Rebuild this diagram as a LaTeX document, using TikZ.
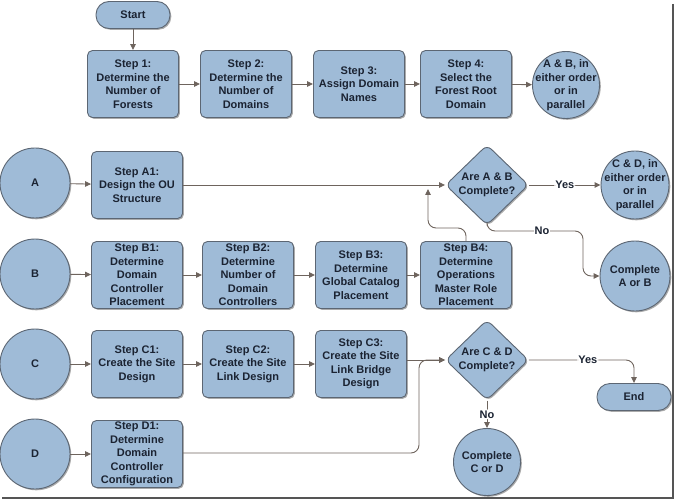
\documentclass[tikz,border=0pt]{standalone}
\usepackage{fontspec}
\setmainfont{Liberation Sans}
\usetikzlibrary{arrows.meta,shapes.geometric,shadows}
\definecolor{boxfill}{HTML}{9FBBD7}
\definecolor{boxedge}{HTML}{5C6673}
\definecolor{flowgray}{HTML}{6E645D}
\definecolor{inknavy}{HTML}{1B2332}
\definecolor{framegray}{HTML}{555555}

\begin{document}
\begin{tikzpicture}[
    x=1pt, y=-1pt,
    font=\fontsize{11}{13.5}\selectfont\bfseries,
    >={Triangle[length=6pt,width=5.5pt]},
    shade/.style={drop shadow={shadow xshift=1.3pt, shadow yshift=-1.3pt,
                  fill=black!60, opacity=0.55}},
    stepbox/.style={draw=boxedge, line width=0.9pt, fill=boxfill, text=inknavy,
                    rounded corners=5pt, minimum width=91pt, minimum height=67pt,
                    inner sep=1pt, align=center, shade},
    pill/.style={stepbox, rounded corners=13pt, minimum width=74pt,
                 minimum height=27pt},
    hub/.style={circle, draw=boxedge, line width=0.9pt, fill=boxfill,
                text=inknavy, inner sep=-12pt, minimum size=70pt,
                align=center, shade},
    check/.style={diamond, draw=boxedge, line width=0.9pt, fill=boxfill,
                  text=inknavy, rounded corners=6pt, inner sep=0pt,
                  minimum width=83pt, minimum height=66pt, align=center, shade},
    flow/.style={flowgray, line width=0.9pt, ->, rounded corners=8pt},
    lbl/.style={fill=white, inner sep=1pt, text=inknavy},
]
\useasboundingbox (0,0) rectangle (676,502);

% =====================================================================
% top row: forests and domains
% =====================================================================
\node[pill] (start) at (133,15) {Start};
\node[stepbox] (s1) at (133,84) {Step 1:\\Determine the\\Number of\\Forests};
\node[stepbox] (s2) at (246,84) {Step 2:\\Determine the\\Number of\\Domains};
\node[stepbox] (s3) at (359,84) {Step 3:\\Assign Domain\\Names};
\node[stepbox] (s4) at (466,84) {Step 4:\\Select the\\Forest Root\\Domain};
\node[hub, minimum size=67pt] (ab) at (566,85) {A \& B, in\\either order\\or in\\parallel};

% =====================================================================
% rows A and B
% =====================================================================
\node[hub] (a) at (35,183) {A};
\node[stepbox] (a1) at (137,185) {Step A1:\\Design the OU\\Structure};
\node[check] (dab) at (487,185) {Are A \& B\\Complete?};
\node[hub, minimum size=68pt] (cd) at (635,185) {C \& D, in\\either order\\or in\\parallel};

\node[hub] (b) at (35,274) {B};
\node[stepbox] (b1) at (137,275) {Step B1:\\Determine\\Domain\\Controller\\Placement};
\node[stepbox] (b2) at (248,275) {Step B2:\\Determine\\Number of\\Domain\\Controllers};
\node[stepbox] (b3) at (361,275) {Step B3:\\Determine\\Global Catalog\\Placement};
\node[stepbox] (b4) at (466,275) {Step B4:\\Determine\\Operations\\Master Role\\Placement};
\node[hub] (cab) at (635,276) {Complete\\A or B};

% =====================================================================
% rows C and D
% =====================================================================
\node[hub] (c) at (35,364) {C};
\node[stepbox] (c1) at (137,364) {Step C1:\\Create the Site\\Design};
\node[stepbox] (c2) at (248,364) {Step C2:\\Create the Site\\Link Design};
\node[stepbox] (c3) at (361,364) {Step C3:\\Create the Site\\Link Bridge\\Design};
\node[check, minimum height=72pt] (dcd) at (487,360) {Are C \& D\\Complete?};
\node[pill] (finish) at (634,397) {End};
\node[hub, minimum size=67pt] (ccd) at (487,462) {Complete\\C or D};

\node[hub] (d) at (35,454) {D};
\node[stepbox] (d1) at (137,454) {Step D1:\\Determine\\Domain\\Controller\\Configuration};

% joins where one flow runs into another
\coordinate (ajoin) at (428,189);
\coordinate (bturn) at (428,228);
\coordinate (noab) at (583,231);
\coordinate (dturn) at (419,453);

% =====================================================================
% connectors
% =====================================================================
\draw[flow] (start) -- (s1);
\foreach \from/\to in {s1/s2, s2/s3, s3/s4, s4/ab, a/a1, b/b1, b1/b2,
                       b2/b3, b3/b4, c/c1, c1/c2, c2/c3, d/d1}
    \draw[flow] (\from) -- (\to);

\draw[flow] (a1) -- (dab);
\draw[flow] (b4.north) |- (bturn) -- (ajoin);
\draw[flow] (dab) -- node[lbl] {Yes} (cd);
\draw[flow] (dab.south) |- (noab) |- (cab.west);
\node[lbl] (nolbl) at (542,231) {No};

\draw[flow] (c3.east |- dcd.west) -- (dcd.west);
\draw[flow] (d1.east |- dturn) -- (dturn) |- (dcd.west);
\draw[flow] (dcd.east) -| node[lbl, pos=0.28] {Yes} (finish.north);
\draw[flow] (dcd.south) -- node[lbl] {No} (ccd);

% frame edges
\draw[framegray, line width=1.6pt] (673,4) -- (673,498) -- (2,498);

\end{tikzpicture}
\end{document}
